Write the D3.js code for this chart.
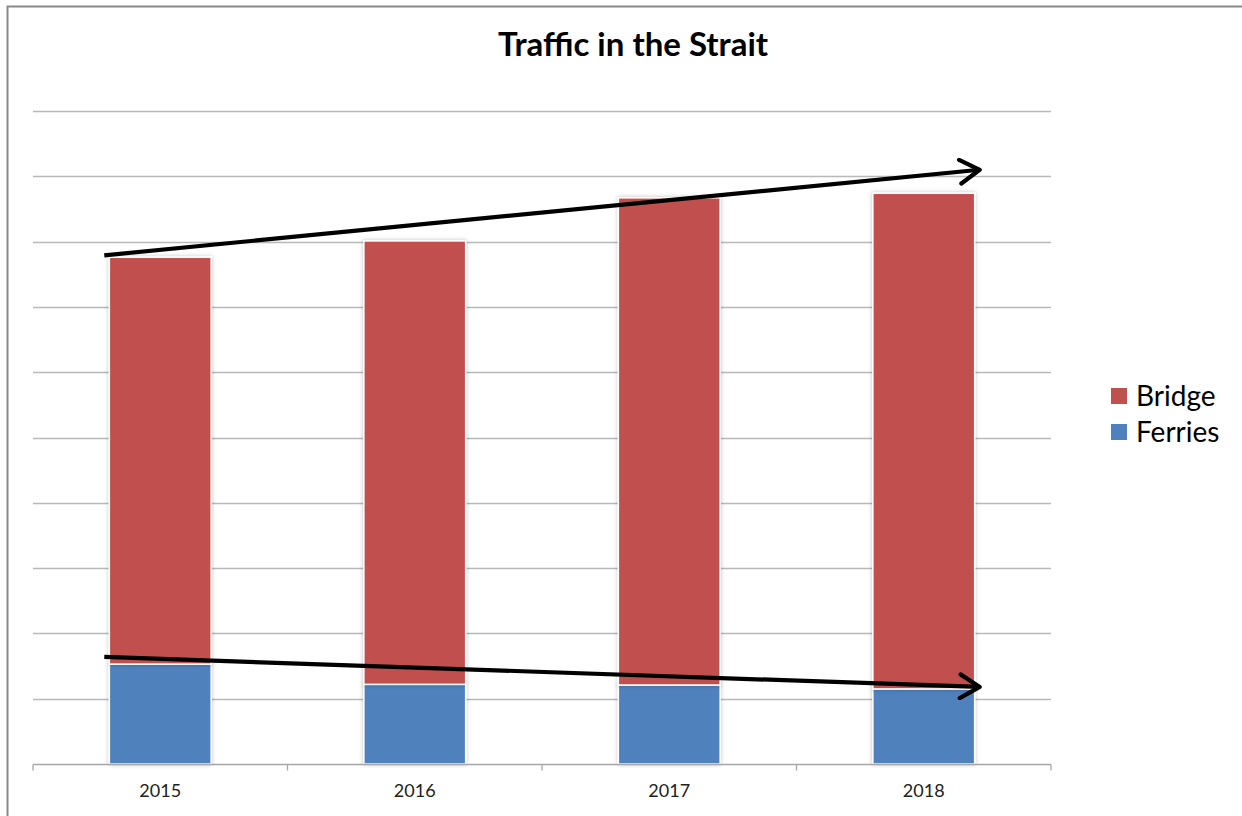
<!DOCTYPE html>
<html>
<head>
<meta charset="utf-8">
<script src="https://cdn.jsdelivr.net/npm/d3@7"></script>
<style>
  body { margin: 0; background: #fff; }
  svg { display: block; font-family: Lato, "Noto Sans", sans-serif; }
</style>
</head>
<body>
<svg id="chart" width="1242" height="816"></svg>
<script>
"use strict";

// values (grid units, 10 gridlines)
let years = ["2015", "2016", "2017", "2018"];
let ferries = [1.53, 1.22, 1.21, 1.15];
let bridge = [6.23, 6.79, 7.46, 7.59];
let seriesNames = ["Bridge", "Ferries"];
let seriesColors = { Bridge: "#C0504D", Ferries: "#4F81BD" };

// trend arrows drawn on top, [x index offset, value]
let upperTrend = [[-0.22, 7.79], [3.22, 9.1]];
let lowerTrend = [[-0.22, 1.64], [3.22, 1.18]];

let rows = years.map((yr, i) => ({ year: yr, Ferries: ferries[i], Bridge: bridge[i] }));

let svg = d3.select("#chart");

// outer frame
svg.append("rect").attr("x", 7.5).attr("y", 6.5).attr("width", 1250).attr("height", 830)
  .attr("fill", "none").attr("stroke", "#898989").attr("stroke-width", 2);

let plotLeft = 33, plotRight = 1051, plotTop = 111, plotBottom = 764;

let x = d3.scaleBand().domain(years).range([plotLeft, plotRight]).paddingInner(0.6).paddingOuter(0.3);
let y = d3.scaleLinear().domain([0, 10]).range([plotBottom, plotTop]);

// gridlines
svg.append("g").selectAll("line").data(d3.range(1, 11)).enter()
  .append("line")
  .attr("x1", plotLeft).attr("x2", plotRight)
  .attr("y1", d => Math.round(y(d)) + 0.5).attr("y2", d => Math.round(y(d)) + 0.5)
  .attr("stroke", "#b9b9b9").attr("stroke-width", 1.3);

// bars
let stack = d3.stack().keys(["Ferries", "Bridge"])(rows);
let defs = svg.append("defs");
let f = defs.append("filter").attr("id", "shadow").attr("x", "-10%").attr("y", "-5%").attr("width", "120%").attr("height", "110%");
f.append("feDropShadow").attr("dx", 0).attr("dy", 0).attr("stdDeviation", 2).attr("flood-color", "#000").attr("flood-opacity", 0.25);

let layers = svg.append("g").selectAll("g").data(stack).enter().append("g")
  .attr("fill", d => seriesColors[d.key]);

layers.selectAll("rect").data(d => d).enter()
  .append("rect")
  .attr("x", d => x(d.data.year))
  .attr("width", x.bandwidth())
  .attr("y", d => y(d[1]))
  .attr("height", d => y(d[0]) - y(d[1]))
  .attr("stroke", "#fff").attr("stroke-width", 1.5)
  .attr("filter", "url(#shadow)");

// x axis
let axis = svg.append("g").attr("transform", `translate(0,${plotBottom + 0.5})`);
axis.append("line").attr("x1", plotLeft).attr("x2", plotRight).attr("stroke", "#a6a6a6").attr("stroke-width", 1.3);
let step = (plotRight - plotLeft) / years.length;
axis.selectAll("line.tick").data(d3.range(0, years.length + 1)).enter()
  .append("line").attr("class", "tick")
  .attr("x1", d => plotLeft + d * step).attr("x2", d => plotLeft + d * step)
  .attr("y1", 0).attr("y2", 6).attr("stroke", "#a6a6a6").attr("stroke-width", 1.3);
axis.selectAll("text").data(years).enter()
  .append("text")
  .attr("x", d => x(d) + x.bandwidth() / 2)
  .attr("y", 32)
  .attr("text-anchor", "middle")
  .attr("font-size", 18)
  .attr("fill", "#222")
  .text(d => d);

// trend arrows
let ax = v => x(years[0]) + x.bandwidth() / 2 + v * step;
defs.append("marker").attr("id", "head").attr("viewBox", "0 0 20 20")
  .attr("refX", 17).attr("refY", 10).attr("markerWidth", 28).attr("markerHeight", 28)
  .attr("markerUnits", "userSpaceOnUse").attr("orient", "auto")
  .append("path").attr("d", "M3,1.5 L17,10 L3,18.5").attr("fill", "none")
  .attr("stroke", "#000").attr("stroke-width", 3).attr("stroke-linecap", "round").attr("stroke-linejoin", "round");

[upperTrend, lowerTrend].forEach(t => {
  svg.append("line")
    .attr("x1", ax(t[0][0])).attr("y1", y(t[0][1]))
    .attr("x2", ax(t[1][0])).attr("y2", y(t[1][1]))
    .attr("stroke", "#000").attr("stroke-width", 4.2)
    .attr("marker-end", "url(#head)");
});

// title
svg.append("text").attr("x", 633).attr("y", 56).attr("text-anchor", "middle")
  .attr("font-size", 33).attr("font-weight", "bold").attr("fill", "#000")
  .text("Traffic in the Strait");

// legend
let legend = svg.append("g").selectAll("g").data(seriesNames).enter().append("g")
  .attr("transform", (d, i) => `translate(1111,${388 + i * 36})`);
legend.append("rect").attr("width", 16).attr("height", 16).attr("fill", d => seriesColors[d]);
legend.append("text").attr("x", 25).attr("y", 18).attr("font-size", 28).attr("fill", "#000").text(d => d);
</script>
</body>
</html>
